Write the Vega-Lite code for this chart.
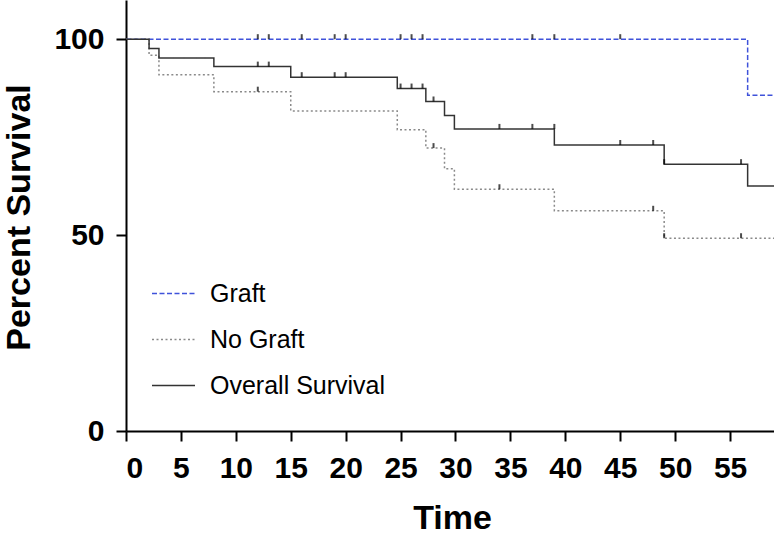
{
  "$schema": "https://vega.github.io/schema/vega-lite/v6.json",
  "width": 648,
  "height": 431,
  "autosize": {"type": "none"},
  "padding": {"left": 126, "top": 0, "right": 0, "bottom": 106},
  "background": "white",
  "config": {
    "view": {"stroke": null},
    "font": "Liberation Sans",
    "axis": {
      "domainColor": "#000",
      "domainWidth": 2,
      "tickColor": "#000",
      "tickWidth": 2,
      "tickSize": 10,
      "grid": false,
      "labelFont": "Liberation Sans",
      "labelFontSize": 30,
      "labelFontWeight": "bold",
      "labelColor": "#000",
      "labelPadding": 12,
      "titleFont": "Liberation Sans",
      "titleFontSize": 34,
      "titleFontWeight": "bold",
      "titleColor": "#000"
    }
  },
  "datasets": {
    "curves": [
      {"series": "Graft", "t": 0, "s": 100},
      {"series": "Graft", "t": 56.6, "s": 85.7},
      {"series": "Graft", "t": 59, "s": 85.7},
      {"series": "No Graft", "t": 0, "s": 100},
      {"series": "No Graft", "t": 2.1, "s": 95.9},
      {"series": "No Graft", "t": 3, "s": 90.9},
      {"series": "No Graft", "t": 8, "s": 86.6},
      {"series": "No Graft", "t": 15, "s": 81.7},
      {"series": "No Graft", "t": 24.7, "s": 76.9},
      {"series": "No Graft", "t": 27.3, "s": 72.2},
      {"series": "No Graft", "t": 29, "s": 66.9},
      {"series": "No Graft", "t": 29.9, "s": 61.7},
      {"series": "No Graft", "t": 39, "s": 56.2},
      {"series": "No Graft", "t": 49, "s": 49.2},
      {"series": "No Graft", "t": 59, "s": 49.2},
      {"series": "Overall Survival", "t": 0, "s": 100},
      {"series": "Overall Survival", "t": 2.1, "s": 97.6},
      {"series": "Overall Survival", "t": 3, "s": 95.2},
      {"series": "Overall Survival", "t": 8, "s": 93.0},
      {"series": "Overall Survival", "t": 15, "s": 90.3},
      {"series": "Overall Survival", "t": 24.7, "s": 87.4},
      {"series": "Overall Survival", "t": 27.3, "s": 84.1},
      {"series": "Overall Survival", "t": 29, "s": 80.5},
      {"series": "Overall Survival", "t": 29.9, "s": 77.1},
      {"series": "Overall Survival", "t": 39, "s": 73.0},
      {"series": "Overall Survival", "t": 49, "s": 68.1},
      {"series": "Overall Survival", "t": 56.6, "s": 62.5},
      {"series": "Overall Survival", "t": 59, "s": 62.5}
    ],
    "censors": [
      {"series": "Graft", "t": 12, "s": 100},
      {"series": "Graft", "t": 13, "s": 100},
      {"series": "Graft", "t": 16, "s": 100},
      {"series": "Graft", "t": 19, "s": 100},
      {"series": "Graft", "t": 20, "s": 100},
      {"series": "Graft", "t": 25, "s": 100},
      {"series": "Graft", "t": 26, "s": 100},
      {"series": "Graft", "t": 27, "s": 100},
      {"series": "Graft", "t": 37, "s": 100},
      {"series": "Graft", "t": 39, "s": 100},
      {"series": "Graft", "t": 45, "s": 100},
      {"series": "No Graft", "t": 12, "s": 86.6},
      {"series": "No Graft", "t": 28, "s": 72.2},
      {"series": "No Graft", "t": 34, "s": 61.7},
      {"series": "No Graft", "t": 48, "s": 56.2},
      {"series": "No Graft", "t": 49, "s": 49.2},
      {"series": "No Graft", "t": 56, "s": 49.2},
      {"series": "Overall Survival", "t": 12, "s": 93.0},
      {"series": "Overall Survival", "t": 13, "s": 93.0},
      {"series": "Overall Survival", "t": 16, "s": 90.3},
      {"series": "Overall Survival", "t": 19, "s": 90.3},
      {"series": "Overall Survival", "t": 20, "s": 90.3},
      {"series": "Overall Survival", "t": 25, "s": 87.4},
      {"series": "Overall Survival", "t": 26, "s": 87.4},
      {"series": "Overall Survival", "t": 27, "s": 87.4},
      {"series": "Overall Survival", "t": 28, "s": 84.1},
      {"series": "Overall Survival", "t": 34, "s": 77.1},
      {"series": "Overall Survival", "t": 37, "s": 77.1},
      {"series": "Overall Survival", "t": 39, "s": 77.1},
      {"series": "Overall Survival", "t": 45, "s": 73.0},
      {"series": "Overall Survival", "t": 48, "s": 73.0},
      {"series": "Overall Survival", "t": 49, "s": 68.1},
      {"series": "Overall Survival", "t": 56, "s": 68.1}
    ]
  },
  "layer": [
    {
      "data": {"name": "curves"},
      "mark": {"type": "line", "interpolate": "step-after", "strokeWidth": 1.5, "clip": true},
      "encoding": {
        "x": {
          "field": "t", "type": "quantitative",
          "scale": {"domain": [0, 59], "nice": false, "zero": false},
          "axis": {"values": [0, 5, 10, 15, 20, 25, 30, 35, 40, 45, 50, 55], "title": "Time", "titleBaseline": "alphabetic", "titleAlign": "center", "titleY": 97, "titleX": 326}
        },
        "y": {
          "field": "s", "type": "quantitative",
          "scale": {"domain": [0, 110], "nice": false},
          "axis": {"values": [0, 50, 100], "title": "Percent Survival", "titleAngle": -90, "titleBaseline": "alphabetic", "titleAlign": "center", "titleX": -97, "titleY": 217}
        },
        "color": {
          "field": "series", "type": "nominal",
          "scale": {"domain": ["Graft", "No Graft", "Overall Survival"], "range": ["#3f52da", "#8a8a8a", "#333333"]},
          "legend": {
            "orient": "none", "legendX": 25, "legendY": 271, "title": null,
            "labelFont": "Liberation Sans", "labelFontSize": 25, "labelColor": "#000", "labelLimit": 400,
            "symbolType": "stroke", "symbolSize": 1849, "symbolStrokeWidth": 1.5,
            "rowPadding": 10, "labelOffset": 14
          }
        },
        "strokeDash": {
          "field": "series", "type": "nominal",
          "scale": {"domain": ["Graft", "No Graft", "Overall Survival"], "range": [[5, 2.5], [2, 2.5], [1, 0]]},
          "legend": {
            "orient": "none", "legendX": 25, "legendY": 271, "title": null,
            "labelFont": "Liberation Sans", "labelFontSize": 25, "labelColor": "#000", "labelLimit": 400,
            "symbolType": "stroke", "symbolSize": 1849, "symbolStrokeWidth": 1.5,
            "rowPadding": 10, "labelOffset": 14
          }
        }
      }
    },
    {
      "data": {"name": "censors"},
      "mark": {"type": "tick", "orient": "vertical", "size": 5, "thickness": 2, "yOffset": -2.5, "color": "#000", "clip": true},
      "encoding": {
        "x": {"field": "t", "type": "quantitative"},
        "y": {"field": "s", "type": "quantitative"}
      }
    }
  ]
}
